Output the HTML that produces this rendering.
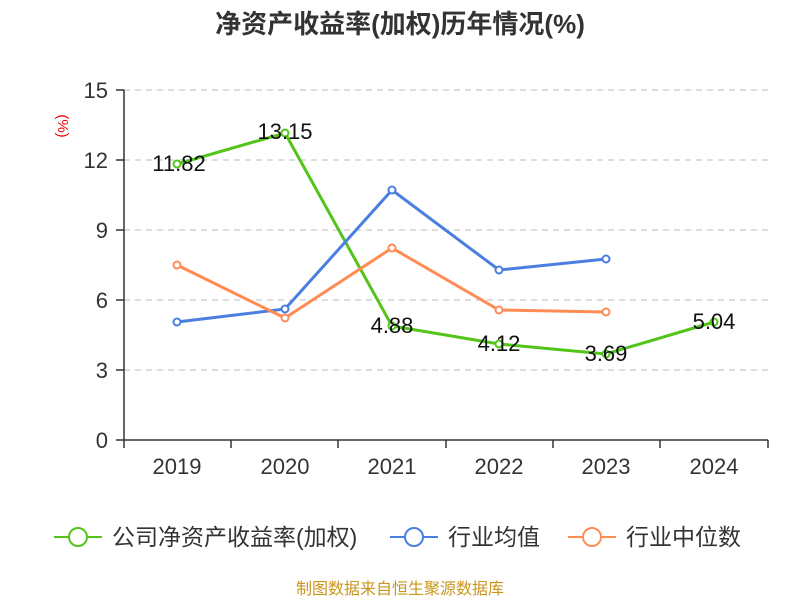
<!DOCTYPE html>
<html><head><meta charset="utf-8"><style>
body{margin:0;background:#fff}
text{font-family:"Liberation Sans","Noto Sans CJK SC",sans-serif}
</style></head><body>
<svg width="800" height="600" xmlns="http://www.w3.org/2000/svg">
<text x="400" y="33" text-anchor="middle" font-size="26" font-weight="bold" fill="#333">净资产收益率(加权)历年情况(%)</text>
<text x="58" y="126" font-size="15" fill="#e00" transform="rotate(90 58 126)" text-anchor="middle">(%)</text>
<g stroke="#bbb" stroke-dasharray="6,5" stroke-width="1">
<line x1="124" y1="90" x2="768" y2="90"/><line x1="124" y1="160" x2="768" y2="160"/>
<line x1="124" y1="230" x2="768" y2="230"/><line x1="124" y1="300" x2="768" y2="300"/>
<line x1="124" y1="370" x2="768" y2="370"/>
</g>
<g stroke="#333" stroke-width="1.5">
<line x1="124" y1="90" x2="124" y2="440"/><line x1="124" y1="440" x2="768" y2="440"/>
<line x1="116" y1="90" x2="124" y2="90"/><line x1="116" y1="160" x2="124" y2="160"/>
<line x1="116" y1="230" x2="124" y2="230"/><line x1="116" y1="300" x2="124" y2="300"/>
<line x1="116" y1="370" x2="124" y2="370"/><line x1="116" y1="440" x2="124" y2="440"/>
<line x1="124" y1="440" x2="124" y2="448"/><line x1="231" y1="440" x2="231" y2="448"/>
<line x1="338" y1="440" x2="338" y2="448"/><line x1="446" y1="440" x2="446" y2="448"/>
<line x1="553" y1="440" x2="553" y2="448"/><line x1="660" y1="440" x2="660" y2="448"/>
<line x1="768" y1="440" x2="768" y2="448"/>
</g>
<g font-size="22" fill="#333" text-anchor="end">
<text x="108" y="98">15</text><text x="108" y="168">12</text><text x="108" y="238">9</text>
<text x="108" y="308">6</text><text x="108" y="378">3</text><text x="108" y="448">0</text>
</g>
<g font-size="22" fill="#333" text-anchor="middle">
<text x="177" y="474">2019</text><text x="285" y="474">2020</text><text x="392" y="474">2021</text>
<text x="499" y="474">2022</text><text x="606" y="474">2023</text><text x="714" y="474">2024</text>
</g>
<g fill="none" stroke-width="3">
<polyline stroke="#52c41a" points="177,164 285,133 392,326 499,344 606,354 714,322"/>
<polyline stroke="#4a7ee0" points="177,322 285,309 392,190 499,270 606,259"/>
<polyline stroke="#ff8c55" points="177,265 285,318 392,248 499,310 606,312"/>
</g>
<g fill="#fff" stroke-width="2">
<g stroke="#52c41a"><circle cx="177" cy="164" r="3.5"/><circle cx="285" cy="133" r="3.5"/><circle cx="392" cy="326" r="3.5"/><circle cx="499" cy="344" r="3.5"/><circle cx="606" cy="354" r="3.5"/><circle cx="714" cy="322" r="3.5"/></g>
<g stroke="#4a7ee0"><circle cx="177" cy="322" r="3.5"/><circle cx="285" cy="309" r="3.5"/><circle cx="392" cy="190" r="3.5"/><circle cx="499" cy="270" r="3.5"/><circle cx="606" cy="259" r="3.5"/></g>
<g stroke="#ff8c55"><circle cx="177" cy="265" r="3.5"/><circle cx="285" cy="318" r="3.5"/><circle cx="392" cy="248" r="3.5"/><circle cx="499" cy="310" r="3.5"/><circle cx="606" cy="312" r="3.5"/></g>
</g>
<g font-size="22" fill="#111" text-anchor="middle">
<text x="179" y="171">11.82</text><text x="285" y="139">13.15</text><text x="392" y="333">4.88</text>
<text x="499" y="351">4.12</text><text x="606" y="361">3.69</text><text x="714" y="329">5.04</text>
</g>
<g stroke-width="2" fill="#fff">
<line x1="54" y1="537" x2="102" y2="537" stroke="#52c41a"/><circle cx="78" cy="537" r="9" stroke="#52c41a"/>
<line x1="390" y1="537" x2="438" y2="537" stroke="#4a7ee0"/><circle cx="414" cy="537" r="9" stroke="#4a7ee0"/>
<line x1="568" y1="537" x2="616" y2="537" stroke="#ff8c55"/><circle cx="592" cy="537" r="9" stroke="#ff8c55"/>
</g>
<g font-size="23" fill="#333">
<text x="112" y="545">公司净资产收益率(加权)</text>
<text x="448" y="545">行业均值</text>
<text x="626" y="545">行业中位数</text>
</g>
<text x="400" y="594" text-anchor="middle" font-size="16" fill="#c8961e">制图数据来自恒生聚源数据库</text>
</svg>
</body></html>
